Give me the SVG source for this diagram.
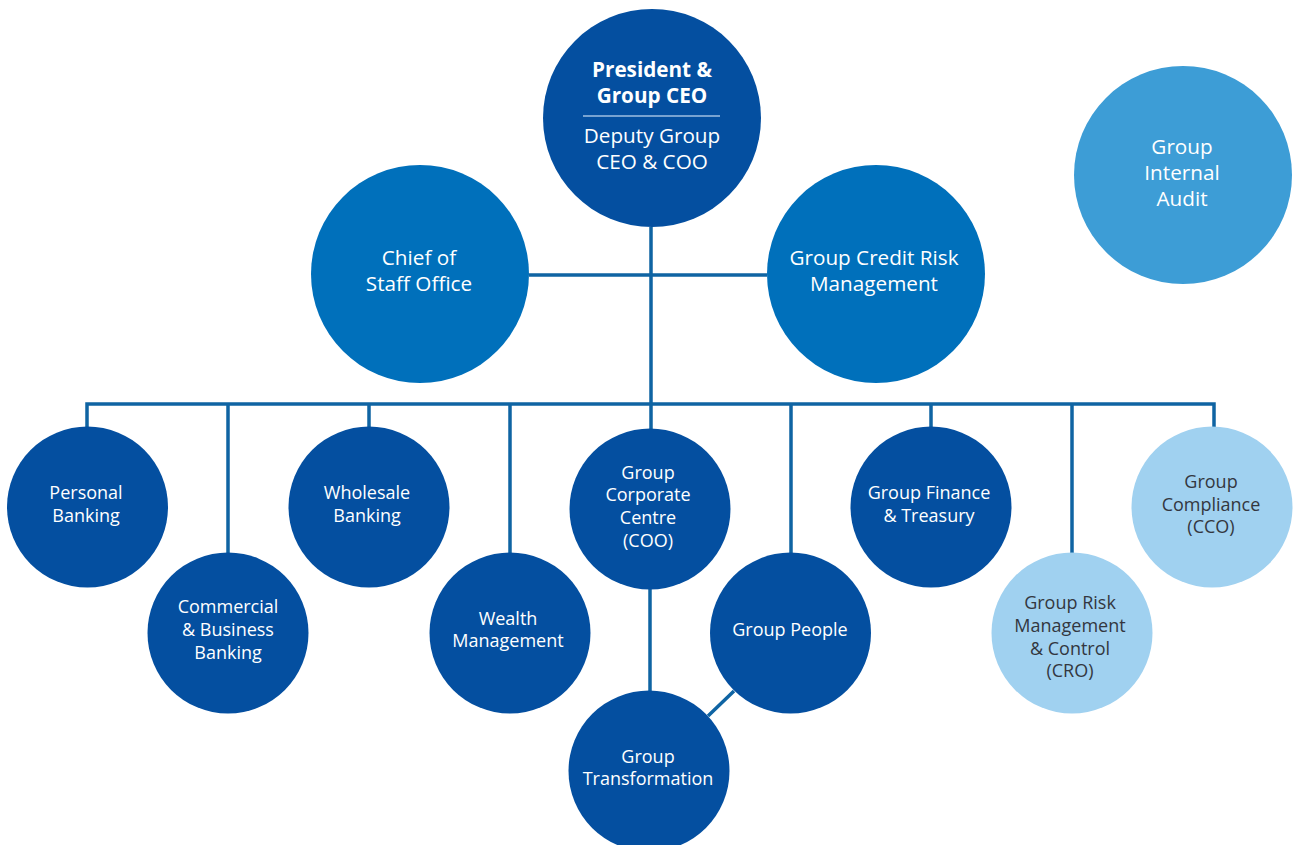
<svg xmlns="http://www.w3.org/2000/svg" width="1294" height="845" viewBox="0 0 1294 845">
<style>
.dark{fill:#044fa0}
.mid{fill:#0070bb}
.audit{fill:#3d9dd6}
.light{fill:#a0d1f0}
.conn{stroke:#0f64a3;stroke-width:3.5;fill:none}
text{font-family:"Open Sans","Noto Sans","Liberation Sans",sans-serif;text-anchor:middle}
.wt{fill:#ffffff}
.dt{fill:#333740}
.big{font-size:20.7px}
.sm{font-size:18px}
</style>
<rect width="1294" height="845" fill="#ffffff"/>
<g id="connectors">
<path class="conn" d="M651 227V404M529 275H767M87 427V404H1214V427M228 404V553M369 404V427M510 404V553M651 404V429M791 404V553M931 404V427M1072 404V553M650 589V691M734 691L708 716"/>
</g>
<g id="ceo">
<circle class="dark" cx="652" cy="118" r="109"/>
<text class="wt big" x="652" y="77" font-weight="bold">President &amp;</text>
<text class="wt big" x="652" y="103" font-weight="bold">Group CEO</text>
<line x1="583" y1="116" x2="720" y2="116" stroke="#9fbfe2" stroke-width="1.5"/>
<text class="wt big" x="652" y="143">Deputy Group</text>
<text class="wt big" x="652" y="169">CEO &amp; COO</text>
</g>
<g id="chief-of-staff">
<circle class="mid" cx="420" cy="274" r="109"/>
<text class="wt big" x="419" y="265">Chief of</text>
<text class="wt big" x="419" y="291">Staff Office</text>
</g>
<g id="credit-risk">
<circle class="mid" cx="876" cy="274" r="109"/>
<text class="wt big" x="874" y="265">Group Credit Risk</text>
<text class="wt big" x="874" y="291">Management</text>
</g>
<g id="internal-audit">
<circle class="audit" cx="1183" cy="175" r="109"/>
<text class="wt big" x="1182" y="154">Group</text>
<text class="wt big" x="1182" y="180">Internal</text>
<text class="wt big" x="1182" y="206">Audit</text>
</g>
<g id="personal-banking">
<circle class="dark" cx="87.5" cy="507" r="80.5"/>
<text class="wt sm" x="86" y="499">Personal</text>
<text class="wt sm" x="86" y="522">Banking</text>
</g>
<g id="commercial-banking">
<circle class="dark" cx="228" cy="633" r="80.5"/>
<text class="wt sm" x="228" y="613">Commercial</text>
<text class="wt sm" x="228" y="636">&amp; Business</text>
<text class="wt sm" x="228" y="659">Banking</text>
</g>
<g id="wholesale-banking">
<circle class="dark" cx="369" cy="507" r="80.5"/>
<text class="wt sm" x="367" y="499">Wholesale</text>
<text class="wt sm" x="367" y="522">Banking</text>
</g>
<g id="wealth-management">
<circle class="dark" cx="510" cy="633" r="80.5"/>
<text class="wt sm" x="508" y="625">Wealth</text>
<text class="wt sm" x="508" y="647">Management</text>
</g>
<g id="corporate-centre">
<circle class="dark" cx="650" cy="509" r="80.5"/>
<text class="wt sm" x="648" y="479">Group</text>
<text class="wt sm" x="648" y="501">Corporate</text>
<text class="wt sm" x="648" y="524">Centre</text>
<text class="wt sm" x="648" y="547">(COO)</text>
</g>
<g id="group-people">
<circle class="dark" cx="790.5" cy="633" r="80.5"/>
<text class="wt sm" x="790" y="636">Group People</text>
</g>
<g id="group-transformation">
<circle class="dark" cx="649" cy="771" r="80.5"/>
<text class="wt sm" x="648" y="763">Group</text>
<text class="wt sm" x="648" y="785">Transformation</text>
</g>
<g id="finance-treasury">
<circle class="dark" cx="931" cy="507" r="80.5"/>
<text class="wt sm" x="929" y="499">Group Finance</text>
<text class="wt sm" x="929" y="522">&amp; Treasury</text>
</g>
<g id="risk-management">
<circle class="light" cx="1072" cy="633" r="80.5"/>
<text class="dt sm" x="1070" y="609">Group Risk</text>
<text class="dt sm" x="1070" y="632">Management</text>
<text class="dt sm" x="1070" y="655">&amp; Control</text>
<text class="dt sm" x="1070" y="677">(CRO)</text>
</g>
<g id="compliance">
<circle class="light" cx="1212" cy="507" r="80.5"/>
<text class="dt sm" x="1211" y="488">Group</text>
<text class="dt sm" x="1211" y="511">Compliance</text>
<text class="dt sm" x="1211" y="533">(CCO)</text>
</g>
</svg>
